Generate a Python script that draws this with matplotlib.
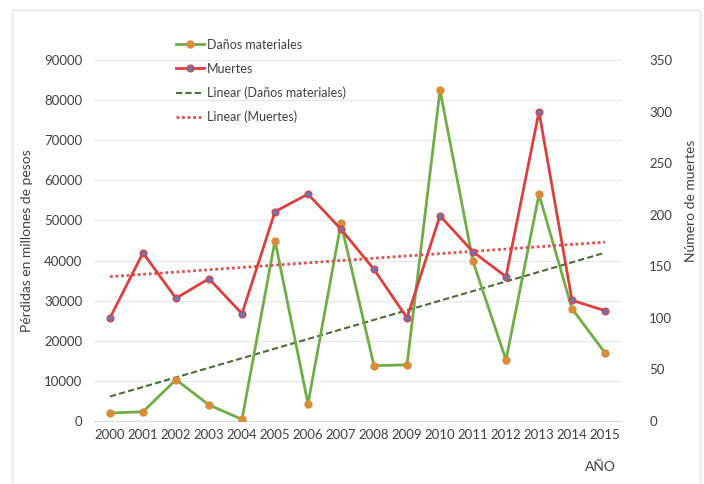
import numpy as np
import matplotlib.pyplot as plt
from matplotlib.patches import Rectangle

plt.rcParams['font.family'] = ['Lato', 'DejaVu Sans']

years = ['2000', '2001', '2002', '2003', '2004', '2005', '2006', '2007',
         '2008', '2009', '2010', '2011', '2012', '2013', '2014', '2015']
danos = [2000, 2300, 10300, 4000, 400, 45000, 4300, 49300,
         13800, 14000, 82500, 39800, 15200, 56500, 28000, 17000]
muertes = [100, 163, 119, 138, 104, 203, 220, 186,
           147, 100, 199, 164, 140, 300, 117, 107]

green = '#70AD47'
orange = '#D98C3A'
red = '#D9403E'
purple = '#7B6FA8'

x = np.arange(len(years))

fig = plt.figure(figsize=(7.04, 4.84), dpi=100)
ax = fig.add_axes([93.5 / 704, 63 / 484, 528 / 704, 361 / 484])
ax2 = ax.twinx()

# faint frame around the chart
fig.patches.append(Rectangle((12 / 704, 0.0), 688 / 704, 474 / 484, transform=fig.transFigure,
                             fill=False, edgecolor='#e4e4e4', linewidth=1))

l1, = ax.plot(x, danos, color=green, lw=2, marker='o', ms=5,
              mfc=orange, mec=orange, label='Daños materiales', zorder=3)
l2, = ax2.plot(x, muertes, color=red, lw=2, marker='o', ms=5,
               mfc=purple, mec=red, mew=0.8, label='Muertes', zorder=3)

# linear trendlines
p1 = np.polyfit(x, danos, 1)
p2 = np.polyfit(x, muertes, 1)
l3, = ax.plot(x, np.polyval(p1, x), color='#4E6B3A', lw=1.5, ls=(0, (3, 1.5)),
              label='Linear (Daños materiales)', zorder=2)
l4, = ax2.plot(x, np.polyval(p2, x), color='#E05050', lw=2, ls=(0, (1, 1)),
               label='Linear (Muertes)', zorder=2)

ax.set_xlim(-0.5, len(years) - 0.5)
ax.set_ylim(0, 90000)
ax2.set_ylim(0, 350)
ax.set_yticks(np.arange(0, 90001, 10000))
ax2.set_yticks(np.arange(0, 351, 50))
ax.set_xticks(x)
ax.set_xticklabels(years)

ax.grid(axis='y', color='#e6e6e6', lw=0.8)
ax.set_axisbelow(True)
for a in (ax, ax2):
    for s in a.spines.values():
        s.set_visible(False)
    a.tick_params(length=0, labelsize=9.5, colors='#404040')
ax.spines['bottom'].set_visible(True)
ax.spines['bottom'].set_color('#d9d9d9')
ax.tick_params(axis='y', pad=8)
ax2.tick_params(axis='y', pad=20)
ax.tick_params(axis='x', pad=6)

ax.set_ylabel('Pérdidas en millones de pesos', fontsize=10, color='#404040')
ax.yaxis.set_label_coords(-0.115, 0.5)
ax2.set_ylabel('Número de muertes', fontsize=10, color='#404040')
ax2.yaxis.set_label_coords(1.12, 0.61)
fig.text(600 / 704, 1 - 467 / 484, 'AÑO', fontsize=10, color='#404040', ha='center', va='center')

leg = ax.legend(handles=[l1, l2, l3, l4], loc='upper left', bbox_to_anchor=(0.135, 1.09),
                frameon=False, fontsize=9, handlelength=2.2, labelspacing=0.95,
                handletextpad=0.3)
for t in leg.get_texts():
    t.set_color('#404040')

fig.savefig('out.png', dpi=100)
